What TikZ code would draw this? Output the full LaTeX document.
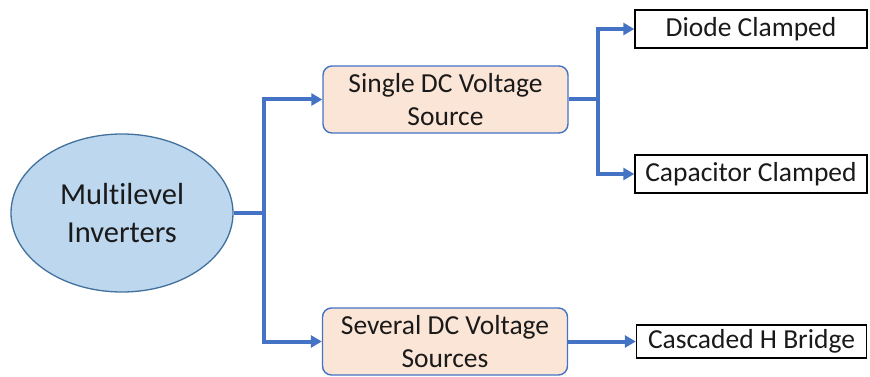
\documentclass[tikz,border=0pt]{standalone}
\usepackage{fontspec}
\setmainfont{Carlito}[Ligatures=NoCommon]
\usetikzlibrary{arrows.meta,shapes.geometric}
\definecolor{lineblue}{HTML}{4472C4}
\definecolor{ellfill}{HTML}{BDD7EE}
\definecolor{elldraw}{HTML}{41719C}
\definecolor{boxfill}{HTML}{FBE5D6}
\definecolor{txt}{HTML}{1A1A1A}
\tikzset{
  ellnode/.style={ellipse,draw=elldraw,line width=1.3pt,fill=ellfill,minimum width=222pt,minimum height=158pt,inner sep=0pt,align=center,text=txt,font=\fontsize{30.5}{38}\selectfont},
  srcbox/.style={draw=lineblue,line width=1.4pt,fill=boxfill,rounded corners=9pt,minimum width=245pt,minimum height=67pt,inner sep=0pt,align=center,text=txt,font=\fontsize{27.5}{33}\selectfont},
  leafbox/.style={draw=black,line width=1.4pt,fill=white,minimum width=232pt,minimum height=38pt,inner sep=0pt,text=txt,font=\fontsize{27.5}{30}\selectfont},
  conn/.style={draw=lineblue,line width=4pt,-{Triangle[length=11pt,width=12pt]}}
}
\begin{document}
\begin{tikzpicture}[x=1pt,y=-1pt]
\useasboundingbox (0,0) rectangle (870,377);
\node[ellnode] (ell) at (122,213) {Multilevel\\Inverters};
\node[srcbox] (single) at (445.5,99.5) {Single DC Voltage\\Source};
\node[srcbox] (several) at (445,341.5) {Several DC Voltage\\Sources};
\node[leafbox] (diode) at (751,29) {Diode Clamped};
\node[leafbox] (cap) at (751,174) {Capacitor Clamped};
\node[leafbox,minimum width=230pt,minimum height=33pt] (casc) at (751.5,341.5) {Cascaded H Bridge};
\draw[conn] (ell.east) -- ++(30,0) |- (single.west);
\draw[conn] (ell.east) -- ++(30,0) |- (several.west);
\draw[conn] (single.east) -- ++(29,0) |- (diode.west);
\draw[conn] (single.east) -- ++(29,0) |- (cap.west);
\draw[conn] (several.east) -- (casc.west);
\end{tikzpicture}
\end{document}
